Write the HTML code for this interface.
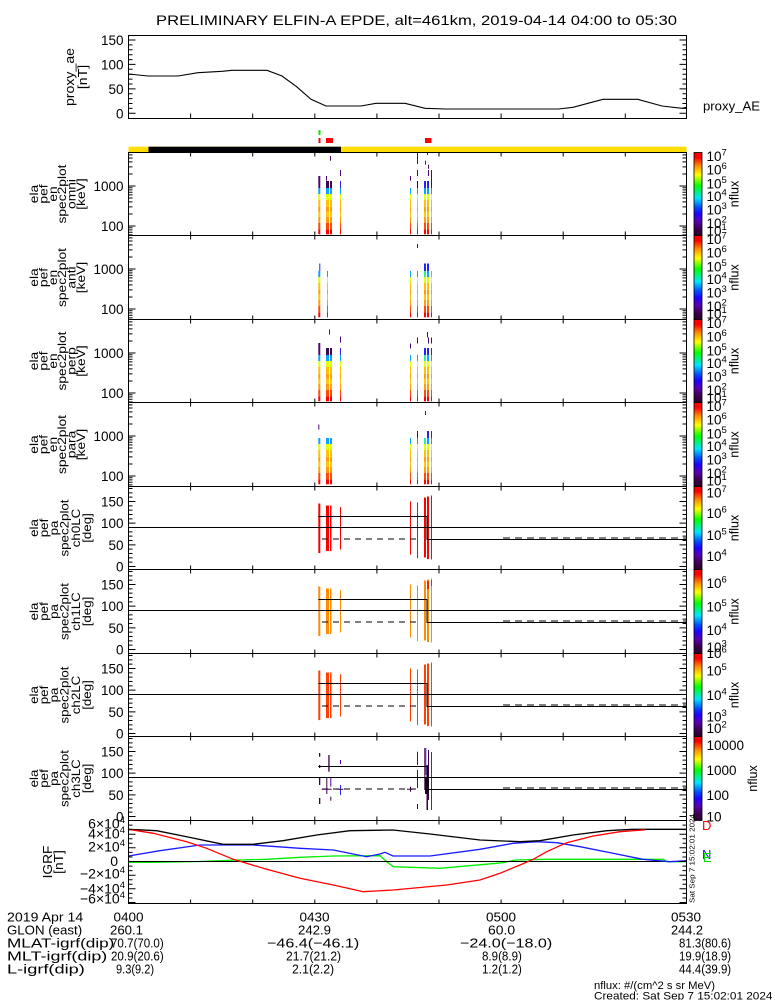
<!DOCTYPE html>
<html><head><meta charset="utf-8">
<style>
html,body{margin:0;padding:0;background:#fff;}
svg{display:block;}
text{font-family:"Liberation Sans",sans-serif;fill:#000;}
</style></head><body>
<svg width="775" height="1000" viewBox="0 0 775 1000" xmlns="http://www.w3.org/2000/svg">
<defs>
<linearGradient id="rb" x1="0" y1="0" x2="0" y2="1">
<stop offset="0" stop-color="#ff0000"/><stop offset="0.06" stop-color="#ff0000"/>
<stop offset="0.16" stop-color="#ff8c00"/><stop offset="0.27" stop-color="#ffff00"/>
<stop offset="0.40" stop-color="#00ff00"/><stop offset="0.55" stop-color="#00e5ff"/>
<stop offset="0.66" stop-color="#0050ff"/><stop offset="0.74" stop-color="#2000ff"/>
<stop offset="0.83" stop-color="#5a00b0"/><stop offset="0.92" stop-color="#3c0050"/>
<stop offset="1" stop-color="#280028"/>
</linearGradient>
<g id="sb">
<rect x="0" y="76.8" width="1" height="5" fill="#ff0000"/>
<rect x="0" y="70.2" width="1" height="6.6" fill="#ff4a00"/>
<rect x="0" y="64.2" width="1" height="6" fill="#ffa000"/>
<rect x="0" y="59.2" width="1" height="5" fill="#ffc800"/>
<rect x="0" y="54.2" width="1" height="5" fill="#ffa000"/>
<rect x="0" y="47.5" width="1" height="6.7" fill="#ffc000"/>
<rect x="0" y="41.5" width="1" height="6" fill="#e0ff00"/>
<rect x="0" y="35.5" width="1" height="6" fill="#10a0ff"/>
</g>
<g id="pb">
<rect x="318.3" y="17" width="2" height="49.6"/>
<rect x="326" y="19" width="3" height="45.6"/>
<rect x="330" y="19" width="1.5" height="45.6"/>
<rect x="340" y="20.6" width="1" height="42.4"/>
<rect x="410" y="15" width="1" height="53"/>
<rect x="417" y="16" width="1" height="55.6"/>
<rect x="424" y="11" width="2" height="60"/>
<rect x="427" y="10" width="2" height="62.6"/>
<rect x="431" y="9" width="1" height="64"/>
</g>
<g id="pl" fill="none" stroke="#000">
<path d="M128.5 41H686.5M318.3 30H427V53H686.5"/>
<path d="M322 52.5H417" stroke-dasharray="6 5"/>
<path d="M503 51.5H686.5" stroke-dasharray="7 5"/>
</g>
<path id="xt" d="M190.6 -4v8M252.7 -4v8M314.8 -4v8M376.9 -4v8M439 -4v8M501.1 -4v8M563.2 -4v8M625.3 -4v8" stroke="#000"/>
<path id="sy" stroke="#000" d="M128.5 33.5h7M686.5 33.5h-7M128.5 73.5h7M686.5 73.5h-7M128.5 2.4h4M686.5 2.4h-4M128.5 5.5h4M686.5 5.5h-4M128.5 9.4h4M686.5 9.4h-4M128.5 14.4h4M686.5 14.4h-4M128.5 21.5h4M686.5 21.5h-4M128.5 35.3h4M686.5 35.3h-4M128.5 37.4h4M686.5 37.4h-4M128.5 39.7h4M686.5 39.7h-4M128.5 42.4h4M686.5 42.4h-4M128.5 45.5h4M686.5 45.5h-4M128.5 49.4h4M686.5 49.4h-4M128.5 54.4h4M686.5 54.4h-4M128.5 61.5h4M686.5 61.5h-4M128.5 75.3h4M686.5 75.3h-4M128.5 77.4h4M686.5 77.4h-4M128.5 79.7h4M686.5 79.7h-4M128.5 82.4h4M686.5 82.4h-4"/>
<path id="py" stroke="#000" d="M128.5 15h7M686.5 15h-7M128.5 36.67h7M686.5 36.67h-7M128.5 58.33h7M686.5 58.33h-7M128.5 80h7M686.5 80h-7M128.5 2h4M686.5 2h-4M128.5 6.33h4M686.5 6.33h-4M128.5 10.67h4M686.5 10.67h-4M128.5 19.33h4M686.5 19.33h-4M128.5 23.67h4M686.5 23.67h-4M128.5 28h4M686.5 28h-4M128.5 32.33h4M686.5 32.33h-4M128.5 41h4M686.5 41h-4M128.5 45.33h4M686.5 45.33h-4M128.5 49.67h4M686.5 49.67h-4M128.5 54h4M686.5 54h-4M128.5 62.67h4M686.5 62.67h-4M128.5 67h4M686.5 67h-4M128.5 71.33h4M686.5 71.33h-4M128.5 75.67h4M686.5 75.67h-4"/>
</defs>

<!-- Title -->
<text x="156" y="25" font-size="14" textLength="521" lengthAdjust="spacingAndGlyphs">PRELIMINARY ELFIN-A EPDE, alt=461km, 2019-04-14 04:00 to 05:30</text>

<!-- proxy_ae panel -->
<rect x="128.5" y="35.5" width="558" height="83" fill="none" stroke="#000"/>
<path stroke="#000" d="M128.5 113.3h7M686.5 113.3h-7M128.5 88.9h7M686.5 88.9h-7M128.5 64.4h7M686.5 64.4h-7M128.5 40h7M686.5 40h-7M128.5 108.4h4M686.5 108.4h-4M128.5 103.5h4M686.5 103.5h-4M128.5 98.6h4M686.5 98.6h-4M128.5 93.7h4M686.5 93.7h-4M128.5 84h4M686.5 84h-4M128.5 79.1h4M686.5 79.1h-4M128.5 74.2h4M686.5 74.2h-4M128.5 69.3h4M686.5 69.3h-4M128.5 59.6h4M686.5 59.6h-4M128.5 54.7h4M686.5 54.7h-4M128.5 49.8h4M686.5 49.8h-4M128.5 44.9h4M686.5 44.9h-4"/>
<path stroke="#000" d="M190.6 118.5v-5M252.7 118.5v-5M314.8 118.5v-5M376.9 118.5v-5M439 118.5v-5M501.1 118.5v-5M563.2 118.5v-5M625.3 118.5v-5"/>
<path fill="none" stroke="#000" stroke-width="1.1" d="M128.5,74 L148,76 L178,76 L198,72.7 L222,71.3 L232,70.3 L267,70.3 L282,76 L296.6,86.7 L311,99.3 L326,106 L361,106 L376,103.3 L405,103.3 L425,108.3 L445,109 L558.6,109 L573,107.3 L603,99.3 L637.7,99.3 L662,106 L682,108.3 L686.5,107.3"/>
<g font-size="13.5" text-anchor="end">
<text x="123.5" y="45">150</text><text x="123.5" y="69.4">100</text><text x="123.5" y="93.9">50</text><text x="123.5" y="118.3">0</text>
</g>
<text transform="translate(0,77) rotate(-90) scale(1.13,1)" text-anchor="middle" font-size="12.5"><tspan x="0" y="74">proxy_ae</tspan><tspan x="0" y="87">[nT]</tspan></text>
<text x="703" y="110.5" font-size="13" textLength="57" lengthAdjust="spacingAndGlyphs">proxy_AE</text>

<!-- markers and bar -->
<rect x="318.5" y="130" width="2" height="5" fill="#00ee00"/>
<rect x="318.5" y="138" width="2" height="5" fill="#ff0000"/>
<rect x="326" y="138" width="7" height="5" fill="#ff0000"/>
<rect x="425" y="138" width="6.5" height="5" fill="#ff0000"/>
<rect x="128.5" y="146.7" width="558" height="6" fill="#ffdd00"/>
<rect x="148.5" y="146.7" width="192.5" height="6" fill="#000"/>

<!-- Spectrogram panel 1 -->
<use href="#sb" transform="translate(318.3,152.5) scale(2,1)"/>
<rect x="318.3" y="176" width="2" height="12" fill="#4b0a6e"/>
<use href="#sb" transform="translate(326,152.5) scale(3,1)"/>
<rect x="326" y="181" width="3" height="7" fill="#3a0a50"/>
<rect x="326" y="176" width="1" height="4.7" fill="#4b0a6e"/>
<use href="#sb" transform="translate(330,152.5) scale(2,1)"/>
<rect x="330" y="181" width="2" height="7" fill="#3a0a50"/>
<rect x="330" y="156" width="1" height="4.7" fill="#4b0a6e"/>
<use href="#sb" transform="translate(340,152.5)"/>
<rect x="340" y="181" width="1" height="7" fill="#3020e0"/>
<rect x="340" y="170" width="1" height="6" fill="#4b0a6e"/>
<use href="#sb" transform="translate(410,152.5)"/>
<rect x="410" y="176" width="1" height="4.7" fill="#4b0a6e"/>
<use href="#sb" transform="translate(417,152.5)"/>
<rect x="417" y="181" width="1" height="7" fill="#200820"/>
<rect x="417" y="152.5" width="1" height="11.5" fill="#4b0a6e"/>
<rect x="417" y="170" width="1" height="6" fill="#4b0a6e"/>
<use href="#sb" transform="translate(424,152.5) scale(2,1)"/>
<rect x="424" y="181" width="2" height="7" fill="#2222ff"/>
<rect x="425" y="160.7" width="1" height="4" fill="#4b0a6e"/>
<use href="#sb" transform="translate(427,152.5) scale(2,1)"/>
<rect x="427" y="181" width="2" height="7" fill="#2222ff"/>
<rect x="427" y="152.5" width="1" height="2.5" fill="#4b0a6e"/>
<rect x="428" y="164.7" width="1" height="4" fill="#4b0a6e"/>
<rect x="428" y="170" width="1" height="6" fill="#4b0a6e"/>
<use href="#sb" transform="translate(431,152.5)"/>
<rect x="431" y="170" width="1" height="18" fill="#4b0a6e"/>

<!-- Spectrogram panel 2 -->
<use href="#sb" transform="translate(318.3,235.5) scale(2,1)"/>
<rect x="319.3" y="263.5" width="1" height="7.5" fill="#2222ff"/>
<use href="#sb" transform="translate(327,235.5)"/>
<use href="#sb" transform="translate(410,235.5)"/>
<use href="#sb" transform="translate(417,235.5)"/>
<rect x="417" y="244" width="1" height="4" fill="#4b0a6e"/>
<use href="#sb" transform="translate(424,235.5) scale(2,1)"/>
<rect x="424" y="263.5" width="2" height="7.5" fill="#2222ff"/>
<rect x="424" y="271" width="2" height="6" fill="#20f0a0"/>
<use href="#sb" transform="translate(427,235.5) scale(2,1)"/>
<rect x="427" y="263.5" width="2" height="7.5" fill="#2222ff"/>
<use href="#sb" transform="translate(431,235.5)"/>
<rect x="431" y="271" width="1" height="6" fill="#20f0a0"/>

<!-- Spectrogram panel 3 -->
<use href="#sb" transform="translate(318.3,319.5) scale(2,1)"/>
<rect x="318.3" y="343" width="2" height="12" fill="#4b0a6e"/>
<use href="#sb" transform="translate(326,319.5) scale(3,1)"/>
<rect x="326" y="348" width="3" height="7" fill="#3a0a50"/>
<use href="#sb" transform="translate(330,319.5) scale(2,1)"/>
<rect x="330" y="348" width="2" height="7" fill="#3a0a50"/>
<rect x="329" y="329.5" width="1" height="5" fill="#4b0a6e"/>
<use href="#sb" transform="translate(340,319.5)"/>
<rect x="340" y="348" width="1" height="7" fill="#3020e0"/>
<rect x="340" y="336.5" width="1" height="6" fill="#4b0a6e"/>
<use href="#sb" transform="translate(410,319.5)"/>
<rect x="410" y="343.5" width="1" height="5" fill="#4b0a6e"/>
<use href="#sb" transform="translate(417,319.5)"/>
<rect x="417" y="337.5" width="1" height="6" fill="#4b0a6e"/>
<use href="#sb" transform="translate(424,319.5) scale(2,1)"/>
<rect x="424" y="355" width="2" height="6" fill="#20f0a0"/>
<rect x="424" y="348" width="2" height="7" fill="#2222ff"/>
<use href="#sb" transform="translate(427,319.5) scale(2,1)"/>
<rect x="427" y="348" width="2" height="7" fill="#2222ff"/>
<rect x="427" y="332" width="1" height="5.5" fill="#4b0a6e"/>
<rect x="428" y="337.5" width="1" height="6" fill="#4b0a6e"/>
<use href="#sb" transform="translate(431,319.5)"/>
<rect x="431" y="348" width="1" height="7" fill="#2222ff"/>
<rect x="431" y="337.5" width="1" height="6" fill="#4b0a6e"/>

<!-- Spectrogram panel 4 -->
<use href="#sb" transform="translate(318.3,402.5) scale(2,1)"/>
<rect x="318.3" y="424.5" width="1" height="5" fill="#4b0a6e"/>
<use href="#sb" transform="translate(326,402.5) scale(3,1)"/>
<use href="#sb" transform="translate(330,402.5) scale(2,1)"/>
<use href="#sb" transform="translate(410,402.5)"/>
<use href="#sb" transform="translate(417,402.5)"/>
<rect x="417" y="431" width="1" height="7" fill="#4b0a6e"/>
<use href="#sb" transform="translate(424,402.5) scale(2,1)"/>
<rect x="424" y="438" width="2" height="6" fill="#20f0a0"/>
<rect x="425" y="411" width="1" height="4" fill="#4b0a6e"/>
<use href="#sb" transform="translate(427,402.5) scale(2,1)"/>
<rect x="427" y="431" width="2" height="7" fill="#2222ff"/>
<use href="#sb" transform="translate(431,402.5)"/>
<rect x="431" y="431" width="1" height="7" fill="#2222ff"/>

<!-- PA panels 5-7 -->
<use href="#pb" y="486.5" fill="#ff0000"/>
<use href="#pb" y="569.5" fill="#ff8c00"/>
<rect x="427" y="581" width="2" height="8" fill="#ff2000"/>
<rect x="431" y="580" width="1" height="6" fill="#ff2000"/>
<use href="#pb" y="653.5" fill="#ff4000"/>
<use href="#pl" y="486.5"/>
<use href="#pl" y="569.5"/>
<use href="#pl" y="653.5"/>

<!-- PA panel 8 -->
<g>
<rect x="319" y="753" width="1.3" height="3.7" fill="#3a0040"/>
<rect x="319" y="765" width="1.3" height="3" fill="#3a0040"/>
<rect x="319" y="778" width="1.3" height="7" fill="#3a0040"/>
<rect x="319" y="798" width="1.3" height="6" fill="#3a0040"/>
<rect x="326.3" y="777" width="1" height="17" fill="#3a0040"/>
<rect x="328.3" y="755" width="1.3" height="16.7" fill="#3a0040"/>
<rect x="330.3" y="778" width="1" height="8.7" fill="#5000a0"/>
<rect x="330.3" y="796.7" width="1" height="4" fill="#3a0040"/>
<rect x="340" y="760" width="1" height="4" fill="#5000a0"/>
<rect x="340" y="785" width="1" height="10" fill="#2828ff"/>
<rect x="410" y="786.7" width="1" height="5" fill="#3a0040"/>
<rect x="417" y="751.7" width="1" height="13.3" fill="#5000a0"/>
<rect x="417" y="770" width="1" height="18" fill="#5000a0"/>
<rect x="417" y="804" width="1" height="5" fill="#3a0040"/>
<rect x="424.3" y="748" width="1" height="42" fill="#3a0040"/>
<rect x="425.3" y="748" width="1" height="27" fill="#2828ff"/>
<rect x="426.5" y="765" width="1.5" height="45" fill="#3a0040"/>
<rect x="428" y="750" width="1" height="50" fill="#3a0040"/>
<rect x="431" y="752" width="1" height="58" fill="#2828ff"/>
<rect x="425" y="778" width="4" height="16" fill="#1a0020"/>
</g>
<use href="#pl" y="736.5"/>
<path stroke="#3a0040" d="M321.7 789.3H331.7M336.7 789.3H343.3M407 789.3H412.7"/>

<!-- IGRF panel -->
<path fill="none" stroke="#00ee00" stroke-width="1.3" d="M128.5,862.3 L153,862.3 L200,861.5 L236.7,860 L266.7,859.3 L300,857.3 L333.3,856 L380,855.7 L386.7,861.7 L393.3,866.7 L440,868.3 L503.3,862.7 L515,860 L546.7,859.3 L663.3,859.3 L666.7,861.7 L686.5,861.7"/>
<path fill="none" stroke="#000" d="M128.5 861.5H686.5"/>
<path fill="none" stroke="#1a1aff" stroke-width="1.3" d="M128.5,856 L160,850.7 L200,845 L253,845 L300,848.3 L333.3,850 L366.7,856.7 L380,854 L385,852.3 L393,856 L430,856 L480,849.3 L513,843.3 L537,841.7 L557,842.7 L580,846.7 L613,853.3 L643,859.3 L670,861.7 L686.5,860.7"/>
<path fill="none" stroke="#000" stroke-width="1.3" d="M128.5,829.3 L156.7,830.7 L186.7,836.7 L223,844.3 L253,844.3 L283,840.7 L316.7,835 L350,830.7 L393,830 L430,834 L480,840 L520,841.7 L540,840.7 L573,835 L607,830.7 L633,829.3 L686.5,829.3"/>
<path fill="none" stroke="#ff0000" stroke-width="1.3" d="M128.5,829.3 L153.3,833.3 L186.7,841.7 L206.7,848.3 L233.3,859.3 L266.7,869.3 L300,878.3 L333.3,885 L363.3,891.7 L393.3,890 L446.7,885 L480,880 L500,873.3 L520,865 L533.3,859.3 L546.7,851.7 L566.7,842.7 L593.3,836 L620,831.7 L645,829.8"/>
<path stroke="#000" d="M128.5 820.5h7M686.5 820.5h-7M128.5 834.2h7M686.5 834.2h-7M128.5 847.8h7M686.5 847.8h-7M128.5 861.5h7M686.5 861.5h-7M128.5 875.2h7M686.5 875.2h-7M128.5 888.8h7M686.5 888.8h-7M128.5 902.5h7M686.5 902.5h-7M128.5 825.1h4M686.5 825.1h-4M128.5 829.6h4M686.5 829.6h-4M128.5 838.8h4M686.5 838.8h-4M128.5 843.3h4M686.5 843.3h-4M128.5 852.4h4M686.5 852.4h-4M128.5 857h4M686.5 857h-4M128.5 866.1h4M686.5 866.1h-4M128.5 870.6h4M686.5 870.6h-4M128.5 879.8h4M686.5 879.8h-4M128.5 884.3h4M686.5 884.3h-4M128.5 893.4h4M686.5 893.4h-4M128.5 898h4M686.5 898h-4"/>

<!-- frames -->
<rect x="128.5" y="152.5" width="558" height="751" fill="none" stroke="#000"/>
<path stroke="#000" d="M128.5 235.5H686.5M128.5 319.5H686.5M128.5 402.5H686.5M128.5 486.5H686.5M128.5 569.5H686.5M128.5 653.5H686.5M128.5 736.5H686.5M128.5 820.5H686.5"/>
<path stroke="#000" d="M190.6 152.5v4M252.7 152.5v4M314.8 152.5v4M376.9 152.5v4M439 152.5v4M501.1 152.5v4M563.2 152.5v4M625.3 152.5v4"/>
<use href="#xt" y="235.5"/><use href="#xt" y="319.5"/><use href="#xt" y="402.5"/><use href="#xt" y="486.5"/>
<use href="#xt" y="569.5"/><use href="#xt" y="653.5"/><use href="#xt" y="736.5"/><use href="#xt" y="820.5"/>
<path stroke="#000" d="M190.6 903.5v-4M252.7 903.5v-4M314.8 903.5v-4M376.9 903.5v-4M439 903.5v-4M501.1 903.5v-4M563.2 903.5v-4M625.3 903.5v-4"/>
<use href="#sy" y="152.5"/><use href="#sy" y="235.5"/><use href="#sy" y="319.5"/><use href="#sy" y="402.5"/>
<use href="#py" y="486.5"/><use href="#py" y="569.5"/><use href="#py" y="653.5"/><use href="#py" y="736.5"/>

<!-- y tick labels -->
<g font-size="13.5" text-anchor="end">
<text x="123.5" y="191">1000</text><text x="123.5" y="231">100</text>
<text x="123.5" y="274">1000</text><text x="123.5" y="314">100</text>
<text x="123.5" y="358">1000</text><text x="123.5" y="398">100</text>
<text x="123.5" y="441">1000</text><text x="123.5" y="481">100</text>
<text x="123.5" y="506.5">150</text><text x="123.5" y="528.2">100</text><text x="123.5" y="549.8">50</text><text x="123.5" y="571.5">0</text>
<text x="123.5" y="589.5">150</text><text x="123.5" y="611.2">100</text><text x="123.5" y="632.8">50</text><text x="123.5" y="654.5">0</text>
<text x="123.5" y="673.5">150</text><text x="123.5" y="695.2">100</text><text x="123.5" y="716.8">50</text><text x="123.5" y="738.5">0</text>
<text x="123.5" y="756.5">150</text><text x="123.5" y="778.2">100</text><text x="123.5" y="799.8">50</text><text x="123.5" y="821.5">0</text>
</g>
<g font-size="14" text-anchor="end">
<text x="125" y="828.5">6×10<tspan dy="-5.5" font-size="9.5">4</tspan></text>
<text x="125" y="838.5">4×10<tspan dy="-5.5" font-size="9.5">4</tspan></text>
<text x="125" y="851.7">2×10<tspan dy="-5.5" font-size="9.5">4</tspan></text>
<text x="118" y="866">0</text>
<text x="125" y="878.3">−2×10<tspan dy="-5.5" font-size="9.5">4</tspan></text>
<text x="125" y="893.3">−4×10<tspan dy="-5.5" font-size="9.5">4</tspan></text>
<text x="125" y="903.3">−6×10<tspan dy="-5.5" font-size="9.5">4</tspan></text>
</g>

<!-- left axis titles -->
<g font-size="11.5" text-anchor="middle">
<text transform="translate(0,194) rotate(-90) scale(1.2,1)"><tspan x="0" y="38">ela</tspan><tspan x="0" y="47.5">pef</tspan><tspan x="0" y="57">en</tspan><tspan x="0" y="66">spec2plot</tspan><tspan x="0" y="75.5">omni</tspan><tspan x="0" y="85">[keV]</tspan></text>
<text transform="translate(0,277.5) rotate(-90) scale(1.2,1)"><tspan x="0" y="38">ela</tspan><tspan x="0" y="47.5">pef</tspan><tspan x="0" y="57">en</tspan><tspan x="0" y="66">spec2plot</tspan><tspan x="0" y="75.5">anti</tspan><tspan x="0" y="85">[keV]</tspan></text>
<text transform="translate(0,361) rotate(-90) scale(1.2,1)"><tspan x="0" y="38">ela</tspan><tspan x="0" y="47.5">pef</tspan><tspan x="0" y="57">en</tspan><tspan x="0" y="66">spec2plot</tspan><tspan x="0" y="75.5">perp</tspan><tspan x="0" y="85">[keV]</tspan></text>
<text transform="translate(0,444.5) rotate(-90) scale(1.2,1)"><tspan x="0" y="38">ela</tspan><tspan x="0" y="47.5">pef</tspan><tspan x="0" y="57">en</tspan><tspan x="0" y="66">spec2plot</tspan><tspan x="0" y="75.5">para</tspan><tspan x="0" y="85">[keV]</tspan></text>
<text transform="translate(0,528) rotate(-90) scale(1.16,1)"><tspan x="0" y="38">ela</tspan><tspan x="0" y="48">pef</tspan><tspan x="0" y="58">pa</tspan><tspan x="0" y="68.5">spec2plot</tspan><tspan x="0" y="80">ch0LC</tspan><tspan x="0" y="91">[deg]</tspan></text>
<text transform="translate(0,611.5) rotate(-90) scale(1.16,1)"><tspan x="0" y="38">ela</tspan><tspan x="0" y="48">pef</tspan><tspan x="0" y="58">pa</tspan><tspan x="0" y="68.5">spec2plot</tspan><tspan x="0" y="80">ch1LC</tspan><tspan x="0" y="91">[deg]</tspan></text>
<text transform="translate(0,695) rotate(-90) scale(1.16,1)"><tspan x="0" y="38">ela</tspan><tspan x="0" y="48">pef</tspan><tspan x="0" y="58">pa</tspan><tspan x="0" y="68.5">spec2plot</tspan><tspan x="0" y="80">ch2LC</tspan><tspan x="0" y="91">[deg]</tspan></text>
<text transform="translate(0,778.5) rotate(-90) scale(1.16,1)"><tspan x="0" y="38">ela</tspan><tspan x="0" y="48">pef</tspan><tspan x="0" y="58">pa</tspan><tspan x="0" y="68.5">spec2plot</tspan><tspan x="0" y="80">ch3LC</tspan><tspan x="0" y="91">[deg]</tspan></text>
<text transform="translate(0,862) rotate(-90) scale(1.1,1)" font-size="12.5"><tspan x="0" y="52">IGRF</tspan><tspan x="0" y="63">[nT]</tspan></text>
</g>

<!-- colorbars -->
<g stroke="#000" stroke-width="0.8">
<rect x="694" y="152.5" width="8" height="83" fill="url(#rb)"/>
<rect x="694" y="235.5" width="8" height="84" fill="url(#rb)"/>
<rect x="694" y="319.5" width="8" height="83" fill="url(#rb)"/>
<rect x="694" y="402.5" width="8" height="84" fill="url(#rb)"/>
<rect x="694" y="486.5" width="8" height="83" fill="url(#rb)"/>
<rect x="694" y="569.5" width="8" height="84" fill="url(#rb)"/>
<rect x="694" y="653.5" width="8" height="83" fill="url(#rb)"/>
<rect x="694" y="736.5" width="8" height="84" fill="url(#rb)"/>
</g>
<g font-size="13.5">
<text x="706.5" y="160.8">10<tspan dy="-5.5" font-size="9.5">7</tspan></text>
<text x="706.5" y="174.3">10<tspan dy="-5.5" font-size="9.5">6</tspan></text>
<text x="706.5" y="188.3">10<tspan dy="-5.5" font-size="9.5">5</tspan></text>
<text x="706.5" y="200.8">10<tspan dy="-5.5" font-size="9.5">4</tspan></text>
<text x="706.5" y="214.3">10<tspan dy="-5.5" font-size="9.5">3</tspan></text>
<text x="706.5" y="227.8">10<tspan dy="-5.5" font-size="9.5">2</tspan></text>
<text x="706.5" y="235.3">10<tspan dy="-5.5" font-size="9.5">1</tspan></text>
<text x="706.5" y="243.8">10<tspan dy="-5.5" font-size="9.5">7</tspan></text>
<text x="706.5" y="257.3">10<tspan dy="-5.5" font-size="9.5">6</tspan></text>
<text x="706.5" y="271.3">10<tspan dy="-5.5" font-size="9.5">5</tspan></text>
<text x="706.5" y="283.8">10<tspan dy="-5.5" font-size="9.5">4</tspan></text>
<text x="706.5" y="297.3">10<tspan dy="-5.5" font-size="9.5">3</tspan></text>
<text x="706.5" y="310.8">10<tspan dy="-5.5" font-size="9.5">2</tspan></text>
<text x="706.5" y="318.3">10<tspan dy="-5.5" font-size="9.5">1</tspan></text>
<text x="706.5" y="327.8">10<tspan dy="-5.5" font-size="9.5">7</tspan></text>
<text x="706.5" y="341.3">10<tspan dy="-5.5" font-size="9.5">6</tspan></text>
<text x="706.5" y="355.3">10<tspan dy="-5.5" font-size="9.5">5</tspan></text>
<text x="706.5" y="367.8">10<tspan dy="-5.5" font-size="9.5">4</tspan></text>
<text x="706.5" y="381.3">10<tspan dy="-5.5" font-size="9.5">3</tspan></text>
<text x="706.5" y="394.8">10<tspan dy="-5.5" font-size="9.5">2</tspan></text>
<text x="706.5" y="402.3">10<tspan dy="-5.5" font-size="9.5">1</tspan></text>
<text x="706.5" y="410.8">10<tspan dy="-5.5" font-size="9.5">7</tspan></text>
<text x="706.5" y="424.3">10<tspan dy="-5.5" font-size="9.5">6</tspan></text>
<text x="706.5" y="438.3">10<tspan dy="-5.5" font-size="9.5">5</tspan></text>
<text x="706.5" y="450.8">10<tspan dy="-5.5" font-size="9.5">4</tspan></text>
<text x="706.5" y="464.3">10<tspan dy="-5.5" font-size="9.5">3</tspan></text>
<text x="706.5" y="477.8">10<tspan dy="-5.5" font-size="9.5">2</tspan></text>
<text x="706.5" y="485.3">10<tspan dy="-5.5" font-size="9.5">1</tspan></text>
<text x="706.5" y="497.5">10<tspan dy="-5.5" font-size="9.5">7</tspan></text>
<text x="706.5" y="517.8">10<tspan dy="-5.5" font-size="9.5">6</tspan></text>
<text x="706.5" y="539.8">10<tspan dy="-5.5" font-size="9.5">5</tspan></text>
<text x="706.5" y="560.8">10<tspan dy="-5.5" font-size="9.5">4</tspan></text>
<text x="706.5" y="587.8">10<tspan dy="-5.5" font-size="9.5">6</tspan></text>
<text x="706.5" y="611.5">10<tspan dy="-5.5" font-size="9.5">5</tspan></text>
<text x="706.5" y="634.8">10<tspan dy="-5.5" font-size="9.5">4</tspan></text>
<text x="706.5" y="651.8">10<tspan dy="-5.5" font-size="9.5">3</tspan></text>
<text x="706.5" y="657.8">10<tspan dy="-5.5" font-size="9.5">6</tspan></text>
<text x="706.5" y="675.5">10<tspan dy="-5.5" font-size="9.5">5</tspan></text>
<text x="706.5" y="699.8">10<tspan dy="-5.5" font-size="9.5">4</tspan></text>
<text x="706.5" y="721.5">10<tspan dy="-5.5" font-size="9.5">3</tspan></text>
<text x="706.5" y="733.1">10<tspan dy="-5.5" font-size="9.5">2</tspan></text>
<text x="706.5" y="749.8">10000</text>
<text x="706.5" y="774.8">1000</text>
<text x="706.5" y="799.8">100</text>
<text x="706.5" y="821.5">10</text>
</g>
<g font-size="12.5" text-anchor="middle">
<text transform="translate(738.5,194) rotate(-90)">nflux</text>
<text transform="translate(738.5,277.5) rotate(-90)">nflux</text>
<text transform="translate(738.5,361) rotate(-90)">nflux</text>
<text transform="translate(738.5,444.5) rotate(-90)">nflux</text>
<text transform="translate(738.5,528) rotate(-90)">nflux</text>
<text transform="translate(738.5,611.5) rotate(-90)">nflux</text>
<text transform="translate(738.5,695) rotate(-90)">nflux</text>
<text transform="translate(757,778.5) rotate(-90)">nflux</text>
</g>

<!-- IGRF legend & timestamp -->
<text x="702" y="830" font-size="13" style="fill:#ff0000">D</text>
<text x="702" y="859" font-size="13" style="fill:#2020ff">N</text>
<text x="703" y="862" font-size="13" style="fill:#00dd00">E</text>
<text transform="translate(694.5,903) rotate(-90)" font-size="7.5" textLength="89" lengthAdjust="spacingAndGlyphs">Sat Sep 7 15:02:01 2024</text>

<!-- bottom annotations (horizontal-only scaling) -->
<g font-size="13">
<text transform="translate(7,921.5) scale(1.088,1)">2019 Apr 14</text>
<text transform="translate(113.5,921.5) scale(1.04,1)">0400</text>
<text transform="translate(299.5,921.5) scale(1.04,1)">0430</text>
<text transform="translate(486,921.5) scale(1.04,1)">0500</text>
<text transform="translate(671,921.5) scale(1.04,1)">0530</text>

<text transform="translate(7,934.5) scale(1.02,1)">GLON (east)</text>
<text transform="translate(110,934.5) scale(1.015,1)">260.1</text>
<text transform="translate(298,934.5) scale(1.015,1)">242.9</text>
<text transform="translate(488,934.5) scale(1.07,1)">60.0</text>
<text transform="translate(671,934.5) scale(0.985,1)">244.2</text>

<text transform="translate(7,947.5) scale(1.32,1)">MLAT-igrf(dip)</text>
<text transform="translate(111,947.5) scale(0.89,1)">70.7(70.0)</text>
<text transform="translate(267,947.5) scale(1.24,1)">−46.4(−46.1)</text>
<text transform="translate(460,947.5) scale(1.24,1)">−24.0(−18.0)</text>
<text transform="translate(679,947.5) scale(0.88,1)">81.3(80.6)</text>

<text transform="translate(7,960.5) scale(1.38,1)">MLT-igrf(dip)</text>
<text transform="translate(111,960.5) scale(0.89,1)">20.9(20.6)</text>
<text transform="translate(286,960.5) scale(0.93,1)">21.7(21.2)</text>
<text transform="translate(482,960.5) scale(0.89,1)">8.9(8.9)</text>
<text transform="translate(679,960.5) scale(0.88,1)">19.9(18.9)</text>

<text transform="translate(7,973.5) scale(1.40,1)">L-igrf(dip)</text>
<text transform="translate(116,973.5) scale(0.85,1)">9.3(9.2)</text>
<text transform="translate(292,973.5) scale(0.94,1)">2.1(2.2)</text>
<text transform="translate(482,973.5) scale(0.89,1)">1.2(1.2)</text>
<text transform="translate(679,973.5) scale(0.88,1)">44.4(39.9)</text>
</g>
<text transform="translate(594,989) scale(1.025,1)" font-size="11">nflux: #/(cm^2 s sr MeV)</text>
<text transform="translate(594,999.5) scale(1.07,1)" font-size="11">Created: Sat Sep 7 15:02:01 2024</text>
</svg>
</body></html>
